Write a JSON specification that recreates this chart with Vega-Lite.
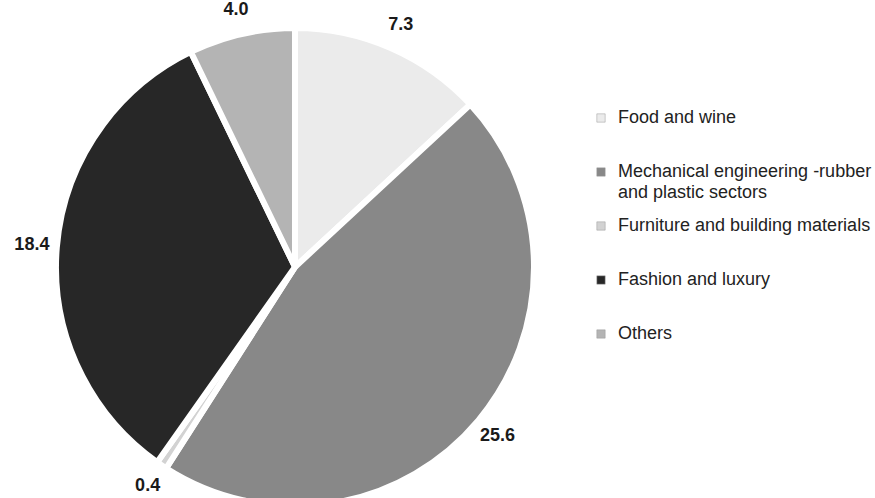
{
  "$schema": "https://vega.github.io/schema/vega-lite/v6.json",
  "width": 875,
  "height": 498,
  "autosize": {"type": "fit", "contains": "padding"},
  "padding": 0,
  "background": "white",
  "config": {"view": {"stroke": null}, "font": "Liberation Sans"},
  "data": {
    "values": [
      {"sector": "Food and wine", "value": 7.3, "order": 1, "label": "7.3"},
      {"sector": "Mechanical engineering -rubber and plastic sectors", "value": 25.6, "order": 2, "label": "25.6"},
      {"sector": "Furniture and building materials", "value": 0.4, "order": 3, "label": "0.4"},
      {"sector": "Fashion and luxury", "value": 18.4, "order": 4, "label": "18.4"},
      {"sector": "Others", "value": 4.0, "order": 5, "label": "4.0"}
    ]
  },
  "encoding": {
    "theta": {"field": "value", "type": "quantitative", "stack": true},
    "order": {"field": "order", "type": "quantitative"}
  },
  "layer": [
    {
      "mark": {"type": "arc", "x": 295, "y": 264, "outerRadius": 239, "stroke": "white", "strokeWidth": 6},
      "encoding": {
        "color": {
          "field": "sector",
          "type": "nominal",
          "sort": null,
          "scale": {
            "domain": ["Food and wine", "Mechanical engineering -rubber and plastic sectors", "Furniture and building materials", "Fashion and luxury", "Others"],
            "range": ["#ebebeb", "#888888", "#d2d2d2", "#272727", "#b4b4b4"]
          },
          "legend": {
            "title": null,
            "orient": "none",
            "legendX": 592,
            "legendY": 106,
            "symbolType": "square",
            "symbolSize": 70,
            "symbolStrokeColor": "#999999",
            "symbolStrokeWidth": 0.5,
            "labelFontSize": 18,
            "labelColor": "#222222",
            "labelLimit": 400,
            "labelOffset": 8,
            "rowPadding": 15,
            "labelExpr": "datum.label == 'Mechanical engineering -rubber and plastic sectors' ? ['Mechanical engineering -rubber', 'and plastic sectors'] : datum.label == 'Others' ? datum.label : [datum.label, ' ']",
            "encode": {"labels": {"update": {"lineHeight": {"value": 21}}}}
          }
        }
      }
    },
    {
      "mark": {"type": "text", "x": 295, "y": 264, "radius": 264, "fontSize": 18, "fontWeight": "bold", "color": "#1a1a1a"},
      "encoding": {
        "text": {"field": "label"}
      }
    }
  ]
}
